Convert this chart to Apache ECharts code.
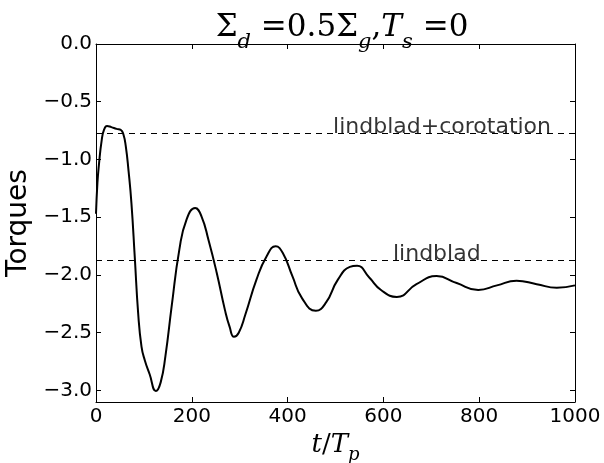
<!DOCTYPE html>
<html>
<head>
<meta charset="utf-8">
<script src="https://cdn.jsdelivr.net/npm/echarts@6/dist/echarts.min.js"></script>
<style>html,body{margin:0;padding:0;background:#fff}#c{width:604px;height:463px}</style>
</head>
<body>
<div id="c"></div>
<script>
const tValues = [0,3,6,12,17,23,32,43,52,57,62,68,74,81,88,95,102,112,125,135,145,158,174,189,207,220,235,252,269,279,288,298,312,335,356,375,390,410,430,459,480,505,530,545,570,595,628,669,711,753,798,837,878,920,962,1000];
const torque = [-1.47,-1.20,-1.05,-0.83,-0.74,-0.71,-0.72,-0.735,-0.745,-0.78,-0.88,-1.10,-1.38,-1.85,-2.33,-2.62,-2.74,-2.86,-3.005,-2.93,-2.70,-2.27,-1.78,-1.52,-1.42,-1.49,-1.70,-1.98,-2.30,-2.45,-2.535,-2.50,-2.34,-2.04,-1.84,-1.752,-1.81,-2.01,-2.20,-2.31,-2.24,-2.04,-1.93,-1.92,-2.02,-2.13,-2.19,-2.08,-2.01,-2.07,-2.13,-2.09,-2.05,-2.08,-2.11,-2.09];
const refNames = ['lindblad+corotation','lindblad'];
const refValues = [-0.77,-1.87];
const refLabelT = [495,620];
const xTicks = [0,200,400,600,800,1000];
const yTicks = [0,-0.5,-1.0,-1.5,-2.0,-2.5,-3.0];

const chart = echarts.init(document.getElementById('c'));
const fmtY = v => (v < 0 ? '\u2212' : '') + Math.abs(v).toFixed(1);
const serif = 'DejaVu Serif';
const axisCommon = {
  axisLine: {show: true, onZero: false, lineStyle: {color: '#000', width: 1}},
  axisTick: {show: true, inside: true, length: 5, lineStyle: {color: '#000'}},
  splitLine: {show: false}
};
chart.setOption({
  animation: false,
  backgroundColor: '#fff',
  title: {
    text: '{a|\u03A3}{s|d}{a| =0.5\u03A3}{s|g}{a|,}{i|T}{s|s}{a| =0}',
    left: 337, top: -2, textAlign: 'center',
    textStyle: {
      fontWeight: 'normal',
      rich: {
        a: {fontFamily: serif, fontWeight: 'normal', fontSize: 31, color: '#000', verticalAlign: 'bottom', lineHeight: 40},
        i: {fontFamily: serif, fontWeight: 'normal', fontStyle: 'italic', fontSize: 31, color: '#000', verticalAlign: 'bottom', lineHeight: 40},
        s: {fontFamily: serif, fontWeight: 'normal', fontStyle: 'italic', fontSize: 21, color: '#000', verticalAlign: 'bottom', lineHeight: 40, padding: [0,0,-10,0]}
      }
    }
  },
  grid: {left: 96, right: 29, top: 44, bottom: 61, outerBoundsMode: 'none', containLabel: false},
  xAxis: [{
    type: 'value', min: 0, max: 1000, interval: 200, position: 'bottom',
    ...axisCommon,
    axisLabel: {color: '#000', fontFamily: 'DejaVu Sans', fontSize: 20, margin: 5, formatter: v => String(v)},
    name: '{i|t}{a|/}{i|T}{s|p}', nameLocation: 'middle', nameGap: 15,
    nameTextStyle: {
      rich: {
        a: {fontFamily: serif, fontSize: 26, color: '#000', verticalAlign: 'bottom', lineHeight: 36},
        i: {fontFamily: serif, fontStyle: 'italic', fontSize: 26, color: '#000', verticalAlign: 'bottom', lineHeight: 36},
        s: {fontFamily: serif, fontStyle: 'italic', fontSize: 18, color: '#000', verticalAlign: 'bottom', lineHeight: 36, padding: [0,0,-6,0]}
      }
    }
  }, {
    type: 'value', min: 0, max: 1000, interval: 200, position: 'top',
    ...axisCommon, axisLabel: {show: false}
  }],
  yAxis: [{
    type: 'value', min: -3.1, max: 0, position: 'left',
    ...axisCommon,
    axisTick: {...axisCommon.axisTick, customValues: yTicks},
    axisLabel: {color: '#000', fontFamily: 'DejaVu Sans', fontSize: 20, margin: 4, customValues: yTicks, formatter: fmtY},
    name: 'Torques', nameLocation: 'middle', nameRotate: 90, nameGap: 60,
    nameTextStyle: {fontFamily: 'DejaVu Sans', fontSize: 28, color: '#000'}
  }, {
    type: 'value', min: -3.1, max: 0, position: 'right',
    ...axisCommon,
    axisTick: {...axisCommon.axisTick, customValues: yTicks},
    axisLabel: {show: false}
  }],
  series: [{
    type: 'line', xAxisIndex: 0, yAxisIndex: 0,
    data: tValues.map((t, i) => [t, torque[i]]),
    showSymbol: false, symbol: 'none', smooth: 0.5,
    lineStyle: {color: '#000', width: 2},
    markLine: {
      silent: true, symbol: 'none', label: {show: false},
      lineStyle: {color: '#000', type: [6, 5], width: 1},
      data: refValues.map(v => ({yAxis: v}))
    },
    z: 3
  }, {
    type: 'scatter', xAxisIndex: 0, yAxisIndex: 0, symbolSize: 0,
    data: refNames.map((n, i) => ({value: [refLabelT[i], refValues[i]], name: n})),
    label: {show: true, formatter: p => p.name, position: [0, 0], align: 'left', verticalAlign: 'bottom', offset: [0, 5],
      fontFamily: 'DejaVu Sans', fontSize: 22, color: '#000'},
    z: 4
  }]
});
</script>
</body>
</html>
